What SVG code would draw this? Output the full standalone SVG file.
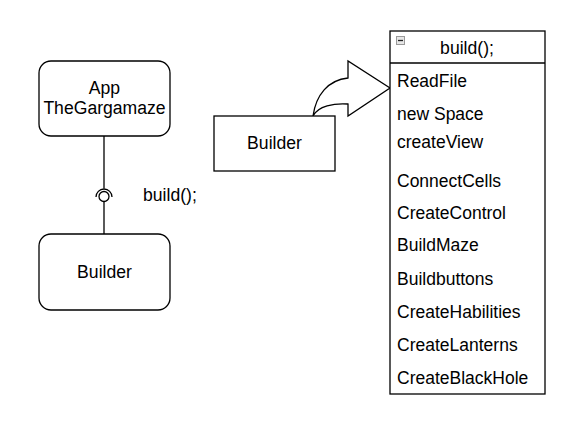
<svg xmlns="http://www.w3.org/2000/svg" width="587" height="424" viewBox="0 0 587 424">
<style>
text{font-family:"Liberation Sans",Arial,sans-serif;font-size:17.6px;fill:#000}
.c{text-anchor:middle}
.it{font-size:17.5px}
.s{fill:#fff;stroke:#000;stroke-width:1.3}
.l{fill:none;stroke:#000;stroke-width:1.3}
</style>
<rect width="587" height="424" fill="#fff"/>
<g id="connectors">
<line class="l" x1="104" y1="136" x2="104" y2="188.5"/>
<line class="l" x1="104" y1="201.5" x2="104" y2="234"/>
<circle class="l" cx="104" cy="196.5" r="5"/>
<path class="l" d="M96,197 A8,8 0 0 1 112,197"/>
<path class="s" d="M313,116 C316,95 328,80 348,78 L348,61 L390,88 L348,116 L348,104 C334,103 318,106 313,116 Z"/>
</g>
<g id="app">
<rect class="s" x="39" y="61" width="131" height="75" rx="12"/>
<text class="c" x="104.5" y="94">App</text>
<text class="c" x="104.5" y="114">TheGargamaze</text>
</g>
<g id="builder1">
<rect class="s" x="39" y="234" width="131" height="76" rx="12"/>
<text class="c" x="104.5" y="278">Builder</text>
</g>
<text x="143" y="201">build();</text>
<g id="builder2">
<rect class="s" x="214" y="116" width="121" height="55"/>
<text class="c" x="274.5" y="149">Builder</text>
</g>
<g id="build">
<rect class="s" x="390" y="31" width="155" height="363"/>
<line class="l" x1="390" y1="63" x2="545" y2="63"/>
<rect x="396.5" y="36.5" width="8" height="8" fill="#e6e6e6" stroke="#999" stroke-width="1"/>
<line x1="398" y1="40.5" x2="403" y2="40.5" stroke="#222" stroke-width="1.3"/>
<text class="c" x="467" y="54">build();</text>
<text class="it" x="397" y="87">ReadFile</text>
<text class="it" x="397" y="120">new Space</text>
<text class="it" x="397" y="148">createView</text>
<text class="it" x="397" y="187">ConnectCells</text>
<text class="it" x="397" y="219">CreateControl</text>
<text class="it" x="397" y="251">BuildMaze</text>
<text class="it" x="397" y="285">Buildbuttons</text>
<text class="it" x="397" y="318">CreateHabilities</text>
<text class="it" x="397" y="351">CreateLanterns</text>
<text class="it" x="397" y="384">CreateBlackHole</text>
</g>
</svg>
